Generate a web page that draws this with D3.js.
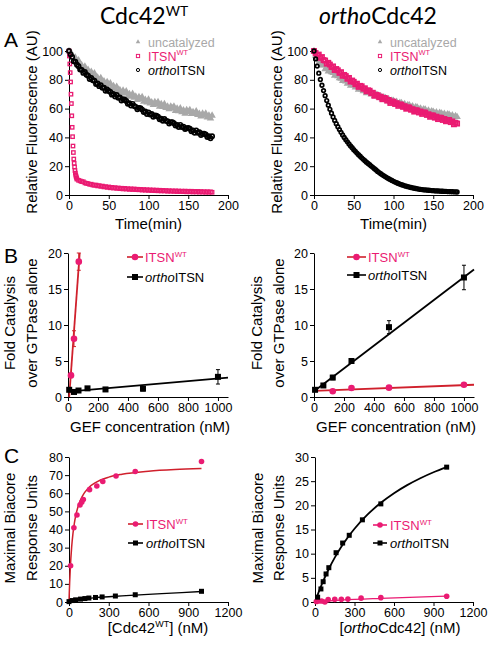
<!DOCTYPE html>
<html><head><meta charset="utf-8">
<script src="https://cdn.jsdelivr.net/npm/d3@7"></script>
<style>body{margin:0;background:#fff}svg{display:block}
svg text{font-family:Arial,"Liberation Sans",Helvetica,sans-serif}
svg text.title{font-family:Lato,Carlito,Calibri,sans-serif}</style>
</head><body><svg width="490" height="648"></svg>
<script>
// ---------------- DATA ----------------
// Panel A: time courses (Relative fluorescence, AU), sampled every 2 min 0..180
const timeMin = d3.range(0, 181, 2);
const timeWTFast = d3.range(0, 10, 0.5).concat(d3.range(10, 181, 2));

const A_left_uncat = [100,99.2,97.4,93.6,95.5,92.7,93.5,89.4,90.1,87.8,
 89.2,86.1,86.9,83.6,85.5,83.7,84.5,81.4,81.6,79.8,
 81.2,78.6,78.9,76.6,78.5,76.7,77.5,74.4,75.6,73.8,
 75.2,72.1,72.9,70.6,72.5,70.7,72,68.9,70.1,68.3,
 70.2,67.6,68.4,66.1,68,66.7,68,64.9,66.1,64.3,
 66.2,63.6,64.4,62.6,64.5,63.2,64.5,61.4,63.1,61.3,
 63.2,60.6,61.4,59.6,61.5,60.2,61.5,58.4,60.1,58.3,
 60.2,57.6,58.9,56.6,59,57.7,59,56.4,57.6,56.3,
 58.2,55.6,56.4,54.6,56.5,55.2,56.5,53.9,55.1,53.3,55.2];
const A_left_WT = [100,96.5,91,85,78.5,70,63.5,55,47,40.5,34,29.5,25,22,19.5,17,15.2,13.8,12.7,11.8,
 11,10.2,9.8,9.3,9.2, 8.4,8.1,7.9,7.4,7.5, 6.9,6.8,6.9,6.3,6.5, 6,6.2,5.6,5.8,5.3,
 5.6,5,5.3,4.8,5.1, 4.6,4.9,4.4,4.7,4.2, 4.6,4.1,4.4,3.9,4.3, 3.8,4.2,3.7,4,3.6,
 3.9,3.4,3.8,3.3,3.7, 3.2,3.6,3.1,3.5,3, 3.4,2.9,3.3,2.8,3.2, 2.8,3.1,2.6,3,2.6,
 2.9,2.5,2.9,2.4,2.8, 2.4,2.7,2.3,2.7,2.2, 2.6,2.2,2.6,2.1,2.5, 2.1,2.5,2,2.4,2,
 2.3,1.9,2.3,1.9,2.2, 1.9];
const A_left_ortho = [100,97.6,95.9,92.8,92.6, 90.5,89.4,87.2,86.9,84.8, 85.4,83.5,82.8,80.6,81.2,
 79.7,79.3,77.1,77.4,75.6, 76.2,74.5,74.6,72.4,73.3, 72.2,71.6,69.7,70.1,68.4,
 69.4,67.5,67.8,65.6,66.5, 66.1,65.3,63.4,63.8,62.2, 63.3,61.8,61.2,59.6,60.5,
 60.2,59.3,57.6,58,56.2, 57.4,55.9,56.2,54.3,55.2, 55.1,54.3,52.6,52.9,51.6,
 52.8,51.5,51.2,49.6,50.5, 50.6,49.8,48.2,48.6,47.2, 48.7,47.2,47.5,45.8,46.4,
 46.5,46,44.2,44.8,43.2, 44.8,43.2,43.6,41.7,42.6, 42.6,42,40.3,40.8,39.4, 40.8];

const A_right_uncat = [100,96.8,94.6,91.9,92.4, 90.2,90,87.4,88.1,85.9, 86.8,85.3,84.8,82.9,83.6,
 82.6,81.1,80.9,79.2,79.8, 79,77.4,78,75.9,77, 76.4,74.7,75.1,73.2,74.1,
 73.4,72.1,72.6,70.8,71.9, 71.4,69.9,70.6,68.7,69.8, 69.3,67.8,68.5,66.6,67.7,
 67.3,65.9,66.4,64.6,65.6, 65.4,64,64.7,63,64, 63.8,62.5,63.1,61.5,62.5,
 62.3,61,61.6,60,61, 60.8,59.5,60.1,58.6,59.6, 59.3,58,58.7,57.2,58.1,
 57.8,56.8,57.4,56.1,57.1, 56.8,55.8,56.4,55.1,56.1, 55.8,54.7,55.3,53.9,54.8, 54.2];
const A_right_WT = [100,98.6,97.1,97.5,95.2, 95.8,93.7,93.4,91.2,91.8, 90.6,88.9,89.3,86.8,87.5,
 86.6,84.8,85.3,82.8,83.4, 82.6,80.7,81.3,78.8,79.5, 78.6,76.9,77.3,75.1,75.8,
 75.5,73.8,74.1,72,72.7, 72.4,70.7,71,68.9,69.6, 69.3,67.9,68.3,66.5,67.4,
 67.2,65.5,66,63.9,64.9, 64.8,63.2,63.8,61.9,62.9, 62.7,61.2,61.7,59.9,60.9,
 60.7,59.2,59.6,57.9,58.9, 58.7,57.3,58,56.3,57.3, 57.2,55.6,56.1,54.3,55.3,
 55.2,53.7,54.4,52.7,53.7, 53.6,52.1,52.8,51.2,52.1, 52.1,50.6,51.1,49.1,50.1, 49.6];
const A_right_ortho = [100,94.5,89.5,84.6,80.2,76.2,72.5,69,65.6,62.4,
 59.5,56.8,54.2,51.8,49.5,47.4,45.4,43.5,41.7,40,
 38.4,36.9,35.5,34.1,32.8,31.5,30.3,29.1,28,26.9,
 25.8,24.8,23.8,22.8,21.9,21,20.1,19.2,18.3,17.4,
 16.4,15.6,14.8,14,13.3,12.6,11.9,11.3,10.7,10.1,
 9.5,9,8.5,8,7.6,7.2,6.8,6.4,6.1,5.8,
 5.5,5.2,5,4.7,4.5,4.3,4.1,3.9,3.8,3.6,
 3.5,3.4,3.3,3.2,3.1,3,2.9,2.8,2.8,2.7,
 2.6,2.6,2.5,2.5,2.4,2.4,2.3,2.3,2.2,2.2, 2.1];

// Panel B: fold catalysis vs GEF concentration (nM)
const B_left_WT_conc = [20, 40, 72];
const B_left_WT_fold = [3.0, 8.1, 18.8];
const B_left_WT_err  = [0.3, 1.1, 1.2];
const B_left_ortho_conc = [8, 40, 70, 130, 250, 500, 1000];
const B_left_ortho_fold = [1.0, 0.7, 0.9, 1.2, 1.05, 1.15, 2.8];
const B_left_ortho_err  = [0.2, 0.2, 0.2, 0.2, 0.2, 0.3, 1.0];
const B_left_WT_fit = [[8, 0], [78, 20]];
const B_left_ortho_fit = [[0, 0.75], [1067, 2.7]];

const B_right_WT_conc = [125, 250, 500, 1000];
const B_right_WT_fold = [0.8, 1.25, 1.3, 1.7];
const B_right_WT_err  = [0.1, 0.1, 0.1, 0.1];
const B_right_ortho_conc = [7, 62.5, 125, 250, 500, 1000];
const B_right_ortho_fold = [1.0, 1.6, 2.7, 5.0, 9.7, 16.6];
const B_right_ortho_err  = [0.2, 0.2, 0.3, 0.3, 0.9, 1.7];
const B_right_WT_fit = [[0, 0.85], [1067, 1.7]];
const B_right_ortho_fit = [[0, 0.8], [1067, 17.7]];

// Panel C: maximal Biacore response units vs GTPase concentration (nM)
const C_left_WT_conc = [12, 37, 60, 83, 96, 108, 155, 210, 255, 355, 500, 1000];
const C_left_WT_ru   = [20, 41, 48, 53.5, 55, 56.5, 62, 64, 66.5, 69.5, 72, 77.5];
const C_left_ortho_conc = [0, 25, 50, 87, 120, 150, 200, 250, 350, 500, 1000];
const C_left_ortho_ru   = [0.2, 0.8, 1.2, 1.6, 1.9, 2.2, 2.5, 2.8, 3.3, 4.0, 5.9];
const C_left_WT_fit = [[0,0],[2,4.7],[5,10.8],[10,18.95],[20,30.3],[30,37.9],[40,43.3],[50,47.4],[75,54.1],[100,58.3],[150,63.2],[200,65.9],[300,68.9],[400,70.5],[600,72.2],[800,73.1],[1000,73.6]];
const C_left_ortho_fit = [[0,0],[25,0.7],[50,1.1],[100,1.6],[150,2.0],[200,2.4],[300,2.9],[400,3.4],[500,3.8],[700,4.6],[1000,5.8]];

const C_right_WT_conc = [10, 25, 50, 75, 100, 150, 200, 250, 350, 500, 1000];
const C_right_WT_ru   = [0.1, 0.2, 0.2, 0.0, 0.5, 0.55, 0.55, 0.6, 0.8, 0.9, 1.2];
const C_right_ortho_conc = [20, 45, 62, 84, 105, 160, 210, 260, 360, 500, 1000];
const C_right_ortho_ru   = [1.0, 2.7, 4.2, 5.8, 7.1, 10.2, 12.2, 13.8, 17.0, 20.3, 27.9];
const C_right_WT_fit = [[0,0.05],[200,0.4],[500,0.75],[1000,1.2]];
const C_right_ortho_fit = [[0,0],[25,1.85],[50,3.55],[100,6.57],[150,9.17],[200,11.42],[250,13.4],[300,15.16],[400,18.11],[500,20.52],[600,22.51],[700,24.18],[800,25.61],[900,26.85],[1000,27.92]];

// ticks
const A_xticks = [0, 50, 100, 150, 200], A_yticks = [0, 20, 40, 60, 80, 100];
const B_xticks = [0, 200, 400, 600, 800, 1000], B_yticks = [0, 5, 10, 15, 20];
const C_xticks = [0, 300, 600, 900, 1200];
const CL_yticks = [0, 10, 20, 30, 40, 50, 60, 70, 80], CR_yticks = [0, 5, 10, 15, 20, 25, 30];

// ---------------- DRAW ----------------
const PINK = "#ea1b72", RED = "#d0202c", GRAY = "#a8a8a8";
const svg = d3.select("svg");

function rich(x, y, parts, size, opt = {}) {
  const t = svg.append("text").attr("x", x).attr("y", y).style("font-size", size + "px")
    .attr("fill", opt.fill || "#000").attr("text-anchor", opt.anchor || "start");
  if (opt.cls) t.attr("class", opt.cls);
  if (opt.rot) t.attr("transform", `rotate(-90,${x},${y})`);
  const raise = opt.raise || 0.42;
  let up = false;
  parts.forEach(p => {
    const s = t.append("tspan").text(p.t);
    if (p.it) s.style("font-style", "italic");
    if (p.sup) { s.style("font-size", (size * 0.6) + "px").attr("dy", -size * raise); up = true; }
    else if (up) { s.attr("dy", size * raise); up = false; }
  });
  return t;
}

function frame(lay, xd, yd, xt, yt) {
  const x = d3.scaleLinear().domain(xd).range([lay.x0, lay.x1]);
  const y = d3.scaleLinear().domain(yd).range([lay.y0, lay.y1]);
  const g = svg.append("g");
  g.append("g").attr("transform", `translate(0,${lay.y0})`)
    .call(d3.axisBottom(x).tickValues(xt).tickSize(4).tickSizeOuter(0).tickPadding(2).tickFormat(d3.format("d")));
  g.append("g").attr("transform", `translate(${lay.x0},0)`)
    .call(d3.axisLeft(y).tickValues(yt).tickSize(4).tickSizeOuter(0).tickPadding(2).tickFormat(d3.format("d")));
  g.selectAll("g").attr("font-family", null).attr("font-size", null);
  g.selectAll(".tick text").style("font-size", "12.5px").attr("fill", "#000");
  g.selectAll(".domain,.tick line").attr("stroke", "#000").attr("stroke-width", 1);
  return { x, y, g };
}

function sym(g, type, cx, cy, color, s, sw) {
  if (type === "tri") {
    g.append("path").attr("d", d3.symbol(d3.symbolTriangle).size(s || 9)())
      .attr("transform", `translate(${cx},${cy})`).attr("fill", color);
  } else if (type === "osq") {
    const h = (s || 3.2) / 2;
    g.append("rect").attr("x", cx - h).attr("y", cy - h).attr("width", 2 * h).attr("height", 2 * h)
      .attr("fill", "none").attr("stroke", color).attr("stroke-width", sw || 1);
  } else if (type === "ocirc") {
    g.append("circle").attr("cx", cx).attr("cy", cy).attr("r", s || 1.6)
      .attr("fill", "none").attr("stroke", color).attr("stroke-width", sw || 1);
  } else if (type === "circ") {
    g.append("circle").attr("cx", cx).attr("cy", cy).attr("r", s || 3.3).attr("fill", color);
  } else if (type === "sq") {
    const h = (s || 6) / 2;
    g.append("rect").attr("x", cx - h).attr("y", cy - h).attr("width", 2 * h).attr("height", 2 * h).attr("fill", color);
  }
}

function series(f, xs, ys, type, color, s, sw) {
  const g = svg.append("g");
  xs.forEach((xv, i) => sym(g, type, f.x(xv), f.y(ys[i]), color, s, sw));
}
function fitLine(f, pts, color, w, curve) {
  svg.append("path").datum(pts)
    .attr("d", d3.line().x(d => f.x(d[0])).y(d => f.y(d[1])).curve(curve || d3.curveLinear))
    .attr("fill", "none").attr("stroke", color).attr("stroke-width", w);
}
function errBars(f, xs, ys, es, color) {
  const g = svg.append("g").attr("stroke", color).attr("stroke-width", 1);
  xs.forEach((xv, i) => {
    const cx = f.x(xv), y1 = f.y(ys[i] + es[i]), y2 = f.y(ys[i] - es[i]);
    g.append("line").attr("x1", cx).attr("x2", cx).attr("y1", y1).attr("y2", y2);
    g.append("line").attr("x1", cx - 2).attr("x2", cx + 2).attr("y1", y1).attr("y2", y1);
    g.append("line").attr("x1", cx - 2).attr("x2", cx + 2).attr("y1", y2).attr("y2", y2);
  });
}
function legendLine(x0, x1, y, color, type, mcolor, s) {
  svg.append("line").attr("x1", x0).attr("x2", x1).attr("y1", y).attr("y2", y)
    .attr("stroke", color).attr("stroke-width", 1.6);
  sym(svg, type, (x0 + x1) / 2, y, mcolor, s);
}

const WT = [{ t: "ITSN" }, { t: "WT", sup: true }];
const ORTHO = [{ t: "ortho", it: true }, { t: "ITSN" }];

// Titles and panel letters
rich(144, 24, [{ t: "Cdc42" }, { t: "WT", sup: true }], 23, { anchor: "middle", cls: "title", raise: 0.34 });
rich(378, 24, [{ t: "ortho", it: true }, { t: "Cdc42" }], 23, { anchor: "middle", cls: "title" });
rich(4, 47, [{ t: "A" }], 21);
rich(4, 263, [{ t: "B" }], 21);
rich(4, 463, [{ t: "C" }], 21);

// ---- Panel A ----
[["L", 69, 228, A_left_uncat, A_left_WT, A_left_ortho], ["R", 314, 473, A_right_uncat, A_right_WT, A_right_ortho]]
.forEach(([side, x0, x1, unc, wt, orth]) => {
  const f = frame({ x0, x1, y0: 195, y1: 51 }, [0, 200], [0, 100], A_xticks, A_yticks);
  series(f, timeMin, unc, "tri", GRAY, 24);
  if (side === "L") series(f, timeWTFast, wt, "osq", PINK, 3.4, 1.3);
  else series(f, timeMin, wt, "osq", PINK, 4.2, 1.7);
  series(f, timeMin, orth, "ocirc", "#000", side === "L" ? 2.1 : 1.8, 1.7);
  const lx = side === "L" ? 138 : 380;
  sym(svg, "tri", lx, 42, GRAY, 9);
  rich(lx + 10, 46.5, [{ t: "uncatalyzed" }], 12.5, { fill: GRAY });
  sym(svg, "osq", lx, 56, PINK, 3.2, 1);
  rich(lx + 10, 60.5, WT, 12.5, { fill: PINK });
  sym(svg, "ocirc", lx, 70, "#000", 1.6, 1);
  rich(lx + 10, 74.5, ORTHO, 12.5);
  const cx = side === "L" ? 37 : 282;
  rich(cx, 122, [{ t: "Relative Fluorescence (AU)" }], 15, { anchor: "middle", rot: true });
  rich((x0 + x1) / 2, 229, [{ t: "Time(min)" }], 15, { anchor: "middle" });
});

// ---- Panel B ----
{
  const f = frame({ x0: 68, x1: 228, y0: 397, y1: 253 }, [0, 1067], [0, 20], B_xticks, B_yticks);
  fitLine(f, B_left_ortho_fit, "#000", 1.8);
  fitLine(f, B_left_WT_fit, RED, 1.8);
  errBars(f, B_left_ortho_conc, B_left_ortho_fold, B_left_ortho_err, "#000");
  errBars(f, B_left_WT_conc, B_left_WT_fold, B_left_WT_err, RED);
  series(f, B_left_ortho_conc, B_left_ortho_fold, "sq", "#000", 6);
  series(f, B_left_WT_conc, B_left_WT_fold, "circ", PINK, 3.3);
  legendLine(127, 143, 257, RED, "circ", PINK, 3.3);
  rich(145, 262, WT, 13, { fill: PINK });
  legendLine(127, 143, 277, "#000", "sq", "#000", 6);
  rich(145, 282, ORTHO, 13);
  rich(15, 323, [{ t: "Fold Catalysis" }], 15, { anchor: "middle", rot: true });
  rich(37, 323, [{ t: "over GTPase alone" }], 15, { anchor: "middle", rot: true });
  rich(150, 432, [{ t: "GEF concentration (nM)" }], 15, { anchor: "middle" });
}
{
  const f = frame({ x0: 314, x1: 474, y0: 397, y1: 253 }, [0, 1067], [0, 20], B_xticks, B_yticks);
  fitLine(f, B_right_WT_fit, RED, 1.8);
  fitLine(f, B_right_ortho_fit, "#000", 1.8);
  errBars(f, B_right_ortho_conc, B_right_ortho_fold, B_right_ortho_err, "#000");
  series(f, B_right_WT_conc, B_right_WT_fold, "circ", PINK, 3.3);
  series(f, B_right_ortho_conc, B_right_ortho_fold, "sq", "#000", 6);
  legendLine(347, 366, 257, RED, "circ", PINK, 3.3);
  rich(368, 262, WT, 13, { fill: PINK });
  legendLine(347, 366, 275, "#000", "sq", "#000", 6);
  rich(368, 280, ORTHO, 13);
  rich(262, 323, [{ t: "Fold Catalysis" }], 15, { anchor: "middle", rot: true });
  rich(284, 323, [{ t: "over GTPase alone" }], 15, { anchor: "middle", rot: true });
  rich(396, 432, [{ t: "GEF concentration (nM)" }], 15, { anchor: "middle" });
}

// ---- Panel C ----
{
  const f = frame({ x0: 69, x1: 228, y0: 602, y1: 457 }, [0, 1200], [0, 80], C_xticks, CL_yticks);
  fitLine(f, C_left_ortho_fit, "#000", 1.3, d3.curveMonotoneX);
  fitLine(f, C_left_WT_fit, RED, 1.5, d3.curveMonotoneX);
  series(f, C_left_ortho_conc, C_left_ortho_ru, "sq", "#000", 5);
  series(f, C_left_WT_conc, C_left_WT_ru, "circ", PINK, 2.8);
  legendLine(128, 143, 524, RED, "circ", PINK, 2.8);
  rich(146, 529, WT, 13, { fill: PINK });
  legendLine(128, 143, 543, "#000", "sq", "#000", 5);
  rich(146, 548, ORTHO, 13);
  rich(15, 528, [{ t: "Maximal Biacore" }], 15, { anchor: "middle", rot: true });
  rich(37, 528, [{ t: "Response Units" }], 15, { anchor: "middle", rot: true });
  rich(158, 633, [{ t: "[Cdc42" }, { t: "WT", sup: true }, { t: "] (nM)" }], 15, { anchor: "middle" });
}
{
  const f = frame({ x0: 315, x1: 473, y0: 602, y1: 457 }, [0, 1200], [0, 30], C_xticks, CR_yticks);
  fitLine(f, C_right_WT_fit, PINK, 1.3, d3.curveMonotoneX);
  fitLine(f, C_right_ortho_fit, "#000", 1.8, d3.curveMonotoneX);
  series(f, C_right_WT_conc, C_right_WT_ru, "circ", PINK, 2.8);
  series(f, C_right_ortho_conc, C_right_ortho_ru, "sq", "#000", 5);
  legendLine(373, 387, 525, PINK, "circ", PINK, 2.8);
  rich(390, 530, WT, 13, { fill: PINK });
  legendLine(373, 387, 543, "#000", "sq", "#000", 5);
  rich(390, 548, ORTHO, 13);
  rich(263, 528, [{ t: "Maximal Biacore" }], 15, { anchor: "middle", rot: true });
  rich(284, 528, [{ t: "Response Units" }], 15, { anchor: "middle", rot: true });
  rich(400, 633, [{ t: "[" }, { t: "ortho", it: true }, { t: "Cdc42] (nM)" }], 15, { anchor: "middle" });
}
</script></body></html>
